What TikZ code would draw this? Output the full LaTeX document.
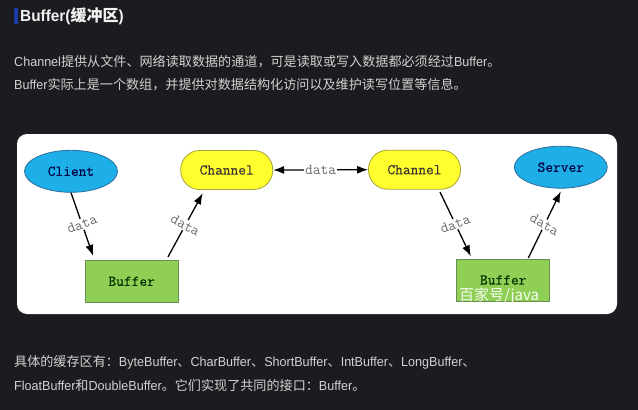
\documentclass[tikz,border=0pt]{standalone}
\usepackage{fontspec}
\setmainfont{Liberation Sans}
\newfontfamily\cjk{Noto Sans CJK SC}
\newfontfamily\lat[FakeStretch=0.96]{Liberation Sans}
\newfontfamily\monof{Latin Modern Mono}
\newfontfamily\monobold[FakeBold=0.3]{Latin Modern Mono}
\usetikzlibrary{shapes.geometric,arrows.meta,calc}
\newcommand\zh[1]{{\cjk #1}}
\newcommand\la[1]{{\lat #1}}
\definecolor{pagebg}{HTML}{1B1C1F}
\definecolor{bodytxt}{HTML}{D2D2D2}
\definecolor{titletxt}{HTML}{F2F2F2}
\definecolor{barblue}{HTML}{1E3CA8}
\definecolor{skyfill}{HTML}{1EAEE8}
\definecolor{skyline}{HTML}{2B6E9E}
\definecolor{yelfill}{HTML}{FFFF2E}
\definecolor{yelline}{HTML}{A3A33A}
\definecolor{grnfill}{HTML}{8FCF55}
\definecolor{grnline}{HTML}{6B8F50}
\definecolor{lblgray}{HTML}{6A6A6A}
\tikzset{
  bodyline/.style={anchor=west, inner sep=0pt, text=bodytxt, font=\fontsize{13.1}{16}\selectfont},
  ovalnode/.style={ellipse, draw=skyline, fill=skyfill, line width=0.8pt, minimum width=93pt, minimum height=42pt, inner sep=0pt, text=black!75!blue, font=\monobold\fontsize{15}{17}\selectfont},
  pillnode/.style={rectangle, rounded corners=19pt, draw=yelline, fill=yelfill, line width=0.8pt, minimum width=92pt, minimum height=39pt, inner sep=0pt, text=black!90!yellow, font=\monobold\fontsize{15}{17}\selectfont},
  boxnode/.style={rectangle, draw=grnline, fill=grnfill, line width=0.8pt, minimum width=93pt, minimum height=42pt, inner sep=0pt, text=black!80!green, font=\monobold\fontsize{15}{17}\selectfont},
  flow/.style={line width=1.3pt, black, -{Latex[length=11pt,width=8pt]}},
  lbl/.style={fill=white, inner sep=1pt, text=lblgray, font=\monof\fontsize{15}{17}\selectfont}
}
\begin{document}
\begin{tikzpicture}[x=1pt,y=-1pt]
\useasboundingbox (0,0) rectangle (638,410);
\fill[pagebg] (0,0) rectangle (638,410);
% title
\fill[barblue] (14,8) rectangle (17.5,23.5);
\node[anchor=west, inner sep=0pt, text=titletxt, font=\bfseries\fontsize{16}{18}\selectfont] (title) at (20,16) {\la{Buffer(}\zh{\bfseries 缓冲区}\la{)}};
% paragraph
\node[bodyline] (p1) at (14,62) {\la{Channel}\zh{提供从文件、网络读取数据的通道，可是读取或写入数据都必须经过}\la{Buffer}\zh{。}};
\node[bodyline] (p2) at (14,85) {\la{Buffer}\zh{实际上是一个数组，并提供对数据结构化访问以及维护读写位置等信息。}};
% diagram panel
\fill[white, rounded corners=10pt] (17,134) rectangle (617,314);
\node[ovalnode] (client) at (71,171.3) {Client};
\node[pillnode] (chanL) at (226.7,170) {Channel};
\node[pillnode] (chanR) at (414.5,169.7) {Channel};
\node[ovalnode] (server) at (560.8,167.2) {Server};
\node[boxnode] (bufL) at (131.7,281.3) {Buffer};
\node[boxnode] (bufR) at (503.3,280) {Buffer};
% connectors
\draw[flow] (client.south) -- ($(bufL.north west)+(8.3,-4)$) node[midway, lbl, rotate=20] {data};
\draw[flow] ($(bufL.north east)+(-10.6,-3)$) -- ($(chanL.south)+(-24,3.4)$) node[midway, lbl, rotate=-30] {data};
\draw[flow, {Latex[length=11pt,width=8pt]}-{Latex[length=11pt,width=8pt]}] (chanR.west) -- (chanL.east) node[midway, lbl] {data};
\draw[flow] ($(chanR.south)+(25.5,2.4)$) -- ($(bufR.north west)+(14.4,-2.3)$) node[midway, lbl, rotate=20] {data};
\draw[flow] ($(bufR.north)+(25,-0.6)$) -- ($(server.south)+(0,2.7)$) node[midway, lbl, rotate=-30] {data};
% watermark
\begin{scope}
\clip (bufR.south west) rectangle ($(bufR.north east)+(0,-1)$);
\node[anchor=west, inner sep=0pt, text=white, opacity=0.92, font=\cjk\fontsize{15}{17}\selectfont] (wm) at (459,296) {百家号/java};
\end{scope}
% bottom paragraph
\node[bodyline] (q1) at (14,362) {\zh{具体的缓存区有：}\la{ByteBuffer}\zh{、}\la{CharBuffer}\zh{、}\la{ShortBuffer}\zh{、}\la{IntBuffer}\zh{、}\la{LongBuffer}\zh{、}};
\node[bodyline] (q2) at (14,385) {\la{FloatBuffer}\zh{和}\la{DoubleBuffer}\zh{。它们实现了共同的接口：}\la{Buffer}\zh{。}};
\end{tikzpicture}
\end{document}
